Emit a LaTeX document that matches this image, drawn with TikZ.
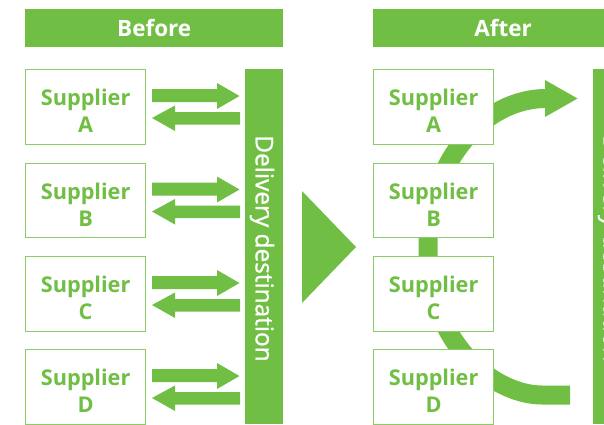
\documentclass[tikz,border=0pt]{standalone}
\usepackage{fontspec}
\setmainfont{Open Sans}
\newfontface\destface[FakeBold=1]{Open Sans}
\newcommand{\lowerlabel}{\rule{0pt}{25pt}}
\definecolor{leaf}{HTML}{70BF44}
\definecolor{leafline}{HTML}{8CCC68}
\tikzset{
  x=1pt,y=-1pt,
  header/.style={fill=leaf,text=white,font=\fontsize{22.5}{26}\selectfont\bfseries,inner sep=0pt,anchor=north west},
  supplier/.style={draw=leafline,line width=1.2pt,fill=white,text=leaf,minimum width=120pt,minimum height=74.5pt,align=center,inner sep=0pt,anchor=north west,font=\fontsize{21.7}{27}\selectfont\bfseries},
  dest/.style={fill=leaf,inner sep=0pt,anchor=north west,minimum width=38pt,minimum height=355pt},
  desttext/.style={text=white,rotate=-90,inner sep=0pt,font=\fontsize{24.4}{28}\destface},
  blockarrow/.style={fill=leaf,draw=none},
  band/.style={draw=leaf,line width=19pt,line cap=butt}
}
\begin{document}
\begin{tikzpicture}
\useasboundingbox (0,0) rectangle (604,424);
\clip (0,0) rectangle (604,424);
\fill[white] (0,0) rectangle (604,424);
% headers
\node[header,minimum width=258pt,minimum height=38pt] (before) at (25,9) {Before};
\node[header,minimum width=260pt,minimum height=38pt] (after) at (373,9) {After};
% destinations
\node[dest] (destL) at (245,69) {};
\node[desttext] (destLt) at (262,248.5) {Delivery destination};
\node[dest,minimum width=30pt] (destR) at (593,69) {};
\node[desttext] (destRt) at (610,248.5) {Delivery destination};
% left supplier boxes and arrows
\foreach \n/\y in {A/69,B/162.5,C/256,D/349}{
  \node[supplier] (L\n) at (25,\y) {\lowerlabel Supplier\\\n};
  \fill[blockarrow] (152,\y+20) -- (217,\y+20) -- (217,\y+14) -- (239.5,\y+27) -- (217,\y+40) -- (217,\y+33) -- (152,\y+33) -- cycle;
  \fill[blockarrow] (240,\y+43) -- (175,\y+43) -- (175,\y+36.5) -- (152,\y+49) -- (175,\y+62) -- (175,\y+55.5) -- (240,\y+55.5) -- cycle;
}
% big triangle
\fill[blockarrow] (302,191) -- (356,247) -- (302,303) -- cycle;
% curved band
\coordinate (bandstart) at (570,395);
\coordinate (bandend) at (546,98.5);
\draw[band] (bandstart) -- (542,395)
  .. controls (495,395) and (428,345) .. (428,247)
  .. controls (428,160) and (485,98.5) .. (bandend);
\fill[blockarrow] (545,80) -- (577.5,98.5) -- (545,117) -- cycle;
% right supplier boxes
\foreach \n/\y in {A/69,B/162.5,C/256,D/349}{
  \node[supplier] (R\n) at (373,\y) {\lowerlabel Supplier\\\n};
}
\end{tikzpicture}
\end{document}
